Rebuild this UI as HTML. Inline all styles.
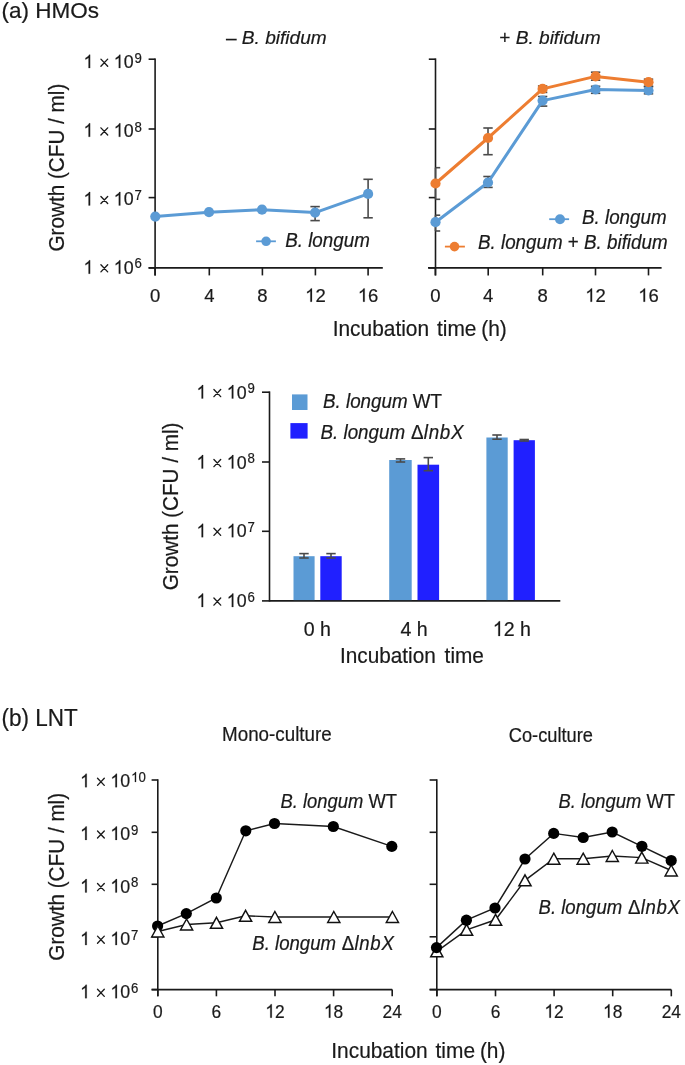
<!DOCTYPE html>
<html><head><meta charset="utf-8"><style>
html,body{margin:0;padding:0;background:#fff;overflow:hidden;}
svg{display:block;will-change:transform;}
text{font-family:"Liberation Sans", sans-serif;fill:#1a1a1a;stroke:#1a1a1a;stroke-width:0.2px;}
.one{fill-opacity:0;stroke-opacity:0;}
</style></head><body>
<svg width="685" height="1065" viewBox="0 0 685 1065">
<rect width="685" height="1065" fill="#fff"/>
<text transform="translate(1.4,18.2) scale(1,1.0)" x="0" y="0" font-size="22.5" text-anchor="start" >(a) HMOs</text>
<text transform="translate(225.9,43.9) scale(1,1.0)" x="0" y="0" font-size="19.1">– <tspan font-style="italic">B. bifidum</tspan></text>
<text transform="translate(499.2,43.9) scale(1,1.0)" x="0" y="0" font-size="19.1">+ <tspan font-style="italic">B. bifidum</tspan></text>
<line x1="148.6" y1="59.2" x2="155.3" y2="59.2" stroke="#1a1a1a" stroke-width="1.6"/>
<line x1="428.8" y1="59.2" x2="435.5" y2="59.2" stroke="#1a1a1a" stroke-width="1.6"/>
<text transform="translate(83.5,68.1) scale(1,1.05)" x="0" y="0" font-size="17.8"><tspan class="one">1</tspan> <tspan class="one">×</tspan> <tspan class="one">1</tspan>0<tspan font-size="13.2" dx="1" dy="-5.0">9</tspan></text>
<line x1="148.6" y1="129.0" x2="155.3" y2="129.0" stroke="#1a1a1a" stroke-width="1.6"/>
<line x1="428.8" y1="129.0" x2="435.5" y2="129.0" stroke="#1a1a1a" stroke-width="1.6"/>
<text transform="translate(83.5,136.8) scale(1,1.05)" x="0" y="0" font-size="17.8"><tspan class="one">1</tspan> <tspan class="one">×</tspan> <tspan class="one">1</tspan>0<tspan font-size="13.2" dx="1" dy="-5.0">8</tspan></text>
<line x1="148.6" y1="197.6" x2="155.3" y2="197.6" stroke="#1a1a1a" stroke-width="1.6"/>
<line x1="428.8" y1="197.6" x2="435.5" y2="197.6" stroke="#1a1a1a" stroke-width="1.6"/>
<text transform="translate(83.5,205.4) scale(1,1.05)" x="0" y="0" font-size="17.8"><tspan class="one">1</tspan> <tspan class="one">×</tspan> <tspan class="one">1</tspan>0<tspan font-size="13.2" dx="1" dy="-5.0">7</tspan></text>
<line x1="148.6" y1="267.9" x2="155.3" y2="267.9" stroke="#1a1a1a" stroke-width="1.6"/>
<line x1="428.8" y1="267.9" x2="435.5" y2="267.9" stroke="#1a1a1a" stroke-width="1.6"/>
<text transform="translate(83.5,273.7) scale(1,1.05)" x="0" y="0" font-size="17.8"><tspan class="one">1</tspan> <tspan class="one">×</tspan> <tspan class="one">1</tspan>0<tspan font-size="13.2" dx="1" dy="-5.0">6</tspan></text>
<line x1="155.1" y1="58.4" x2="155.1" y2="275.5" stroke="#1a1a1a" stroke-width="1.6"/>
<line x1="148.6" y1="267.9" x2="382.8" y2="267.9" stroke="#1a1a1a" stroke-width="1.6"/>
<line x1="435.5" y1="58.4" x2="435.5" y2="275.5" stroke="#1a1a1a" stroke-width="1.6"/>
<line x1="428.0" y1="267.9" x2="661.6" y2="267.9" stroke="#1a1a1a" stroke-width="1.6"/>
<line x1="155.1" y1="267.9" x2="155.1" y2="275.4" stroke="#1a1a1a" stroke-width="1.6"/>
<line x1="435.4" y1="267.9" x2="435.4" y2="275.4" stroke="#1a1a1a" stroke-width="1.6"/>
<text transform="translate(155.1,301.7) scale(1,1.0)" x="0" y="0" font-size="18.5" text-anchor="middle" >0</text>
<text transform="translate(435.4,301.7) scale(1,1.0)" x="0" y="0" font-size="18.5" text-anchor="middle" >0</text>
<line x1="209.3" y1="267.9" x2="209.3" y2="275.4" stroke="#1a1a1a" stroke-width="1.6"/>
<line x1="488.2" y1="267.9" x2="488.2" y2="275.4" stroke="#1a1a1a" stroke-width="1.6"/>
<text transform="translate(209.3,301.7) scale(1,1.0)" x="0" y="0" font-size="18.5" text-anchor="middle" >4</text>
<text transform="translate(488.2,301.7) scale(1,1.0)" x="0" y="0" font-size="18.5" text-anchor="middle" >4</text>
<line x1="262.4" y1="267.9" x2="262.4" y2="275.4" stroke="#1a1a1a" stroke-width="1.6"/>
<line x1="542.7" y1="267.9" x2="542.7" y2="275.4" stroke="#1a1a1a" stroke-width="1.6"/>
<text transform="translate(262.4,301.7) scale(1,1.0)" x="0" y="0" font-size="18.5" text-anchor="middle" >8</text>
<text transform="translate(542.7,301.7) scale(1,1.0)" x="0" y="0" font-size="18.5" text-anchor="middle" >8</text>
<line x1="315.4" y1="267.9" x2="315.4" y2="275.4" stroke="#1a1a1a" stroke-width="1.6"/>
<line x1="595.5" y1="267.9" x2="595.5" y2="275.4" stroke="#1a1a1a" stroke-width="1.6"/>
<text transform="translate(315.4,301.7) scale(1,1.0)" x="0" y="0" font-size="18.5" text-anchor="middle" ><tspan class="one">1</tspan>2</text>
<text transform="translate(595.5,301.7) scale(1,1.0)" x="0" y="0" font-size="18.5" text-anchor="middle" ><tspan class="one">1</tspan>2</text>
<line x1="368.1" y1="267.9" x2="368.1" y2="275.4" stroke="#1a1a1a" stroke-width="1.6"/>
<line x1="648.5" y1="267.9" x2="648.5" y2="275.4" stroke="#1a1a1a" stroke-width="1.6"/>
<text transform="translate(368.1,301.7) scale(1,1.0)" x="0" y="0" font-size="18.5" text-anchor="middle" ><tspan class="one">1</tspan>6</text>
<text transform="translate(648.5,301.7) scale(1,1.0)" x="0" y="0" font-size="18.5" text-anchor="middle" ><tspan class="one">1</tspan>6</text>
<text transform="translate(332.7,336.3) scale(1,1.05)" x="0" y="0" font-size="20.9">Incubation<tspan dx="2.1"> time</tspan><tspan dx="-0.9"> (h)</tspan></text>
<text transform="translate(64.3,167.6) rotate(-90) scale(1,1.08)" x="0" y="0" font-size="20.7" text-anchor="middle">Growth (CFU / ml)</text>
<line x1="315.1" y1="206.6" x2="315.1" y2="220.6" stroke="#4a4a4a" stroke-width="1.6"/>
<line x1="310.40000000000003" y1="206.6" x2="319.8" y2="206.6" stroke="#4a4a4a" stroke-width="1.6"/>
<line x1="310.40000000000003" y1="220.6" x2="319.8" y2="220.6" stroke="#4a4a4a" stroke-width="1.6"/>
<line x1="368.1" y1="179.3" x2="368.1" y2="217.8" stroke="#4a4a4a" stroke-width="1.6"/>
<line x1="363.40000000000003" y1="179.3" x2="372.8" y2="179.3" stroke="#4a4a4a" stroke-width="1.6"/>
<line x1="363.40000000000003" y1="217.8" x2="372.8" y2="217.8" stroke="#4a4a4a" stroke-width="1.6"/>
<polyline points="155.3,216.6 209.0,212.2 262.0,209.7 315.1,212.6 368.1,193.9" fill="none" stroke="#5B9BD5" stroke-width="3" stroke-linejoin="round"/>
<circle cx="155.3" cy="216.6" r="5.1" fill="#5B9BD5"/>
<circle cx="209.0" cy="212.2" r="5.1" fill="#5B9BD5"/>
<circle cx="262.0" cy="209.7" r="5.1" fill="#5B9BD5"/>
<circle cx="315.1" cy="212.6" r="5.1" fill="#5B9BD5"/>
<circle cx="368.1" cy="193.9" r="5.1" fill="#5B9BD5"/>
<line x1="256.1" y1="241.3" x2="275.9" y2="241.3" stroke="#5B9BD5" stroke-width="1.8"/>
<circle cx="266.1" cy="241.3" r="4.8" fill="#5B9BD5"/>
<text transform="translate(285.2,247.4) scale(1,1.05)" x="0" y="0" font-size="18.8" text-anchor="start" font-style="italic" >B. longum</text>
<line x1="435.5" y1="167.7" x2="435.5" y2="199.3" stroke="#4a4a4a" stroke-width="1.6"/>
<line x1="435.5" y1="167.7" x2="440.2" y2="167.7" stroke="#4a4a4a" stroke-width="1.6"/>
<line x1="435.5" y1="199.3" x2="440.2" y2="199.3" stroke="#4a4a4a" stroke-width="1.6"/>
<line x1="435.5" y1="215.2" x2="435.5" y2="231.0" stroke="#4a4a4a" stroke-width="1.6"/>
<line x1="435.5" y1="215.2" x2="440.2" y2="215.2" stroke="#4a4a4a" stroke-width="1.6"/>
<line x1="435.5" y1="231.0" x2="440.2" y2="231.0" stroke="#4a4a4a" stroke-width="1.6"/>
<line x1="488.0" y1="128.0" x2="488.0" y2="154.7" stroke="#4a4a4a" stroke-width="1.6"/>
<line x1="483.3" y1="128.0" x2="492.7" y2="128.0" stroke="#4a4a4a" stroke-width="1.6"/>
<line x1="483.3" y1="154.7" x2="492.7" y2="154.7" stroke="#4a4a4a" stroke-width="1.6"/>
<line x1="488.0" y1="176.5" x2="488.0" y2="187.4" stroke="#4a4a4a" stroke-width="1.6"/>
<line x1="483.3" y1="176.5" x2="492.7" y2="176.5" stroke="#4a4a4a" stroke-width="1.6"/>
<line x1="483.3" y1="187.4" x2="492.7" y2="187.4" stroke="#4a4a4a" stroke-width="1.6"/>
<line x1="542.6" y1="86.0" x2="542.6" y2="92.4" stroke="#4a4a4a" stroke-width="1.6"/>
<line x1="537.9" y1="86.0" x2="547.3000000000001" y2="86.0" stroke="#4a4a4a" stroke-width="1.6"/>
<line x1="537.9" y1="92.4" x2="547.3000000000001" y2="92.4" stroke="#4a4a4a" stroke-width="1.6"/>
<line x1="542.6" y1="96.5" x2="542.6" y2="106.1" stroke="#4a4a4a" stroke-width="1.6"/>
<line x1="537.9" y1="96.5" x2="547.3000000000001" y2="96.5" stroke="#4a4a4a" stroke-width="1.6"/>
<line x1="537.9" y1="106.1" x2="547.3000000000001" y2="106.1" stroke="#4a4a4a" stroke-width="1.6"/>
<line x1="595.6" y1="72.2" x2="595.6" y2="80.2" stroke="#4a4a4a" stroke-width="1.6"/>
<line x1="590.9" y1="72.2" x2="600.3000000000001" y2="72.2" stroke="#4a4a4a" stroke-width="1.6"/>
<line x1="590.9" y1="80.2" x2="600.3000000000001" y2="80.2" stroke="#4a4a4a" stroke-width="1.6"/>
<line x1="595.6" y1="86.3" x2="595.6" y2="93.3" stroke="#4a4a4a" stroke-width="1.6"/>
<line x1="590.9" y1="86.3" x2="600.3000000000001" y2="86.3" stroke="#4a4a4a" stroke-width="1.6"/>
<line x1="590.9" y1="93.3" x2="600.3000000000001" y2="93.3" stroke="#4a4a4a" stroke-width="1.6"/>
<line x1="648.5" y1="79.2" x2="648.5" y2="86.2" stroke="#4a4a4a" stroke-width="1.6"/>
<line x1="643.8" y1="79.2" x2="653.2" y2="79.2" stroke="#4a4a4a" stroke-width="1.6"/>
<line x1="643.8" y1="86.2" x2="653.2" y2="86.2" stroke="#4a4a4a" stroke-width="1.6"/>
<line x1="648.5" y1="86.8" x2="648.5" y2="93.8" stroke="#4a4a4a" stroke-width="1.6"/>
<line x1="643.8" y1="86.8" x2="653.2" y2="86.8" stroke="#4a4a4a" stroke-width="1.6"/>
<line x1="643.8" y1="93.8" x2="653.2" y2="93.8" stroke="#4a4a4a" stroke-width="1.6"/>
<polyline points="435.5,222.2 488.0,182.5 542.6,100.6 595.6,89.5 648.5,90.5" fill="none" stroke="#5B9BD5" stroke-width="3" stroke-linejoin="round"/>
<circle cx="435.5" cy="222.2" r="5.1" fill="#5B9BD5"/>
<circle cx="488.0" cy="182.5" r="5.1" fill="#5B9BD5"/>
<circle cx="542.6" cy="100.6" r="5.1" fill="#5B9BD5"/>
<circle cx="595.6" cy="89.5" r="5.1" fill="#5B9BD5"/>
<circle cx="648.5" cy="90.5" r="5.1" fill="#5B9BD5"/>
<polyline points="435.5,183.5 488.0,138.0 542.6,88.9 595.6,76.4 648.5,82.2" fill="none" stroke="#ED7D31" stroke-width="3" stroke-linejoin="round"/>
<circle cx="435.5" cy="183.5" r="5.1" fill="#ED7D31"/>
<circle cx="488.0" cy="138.0" r="5.1" fill="#ED7D31"/>
<circle cx="542.6" cy="88.9" r="5.1" fill="#ED7D31"/>
<circle cx="595.6" cy="76.4" r="5.1" fill="#ED7D31"/>
<circle cx="648.5" cy="82.2" r="5.1" fill="#ED7D31"/>
<line x1="549.2" y1="219.2" x2="569.1" y2="219.2" stroke="#5B9BD5" stroke-width="1.8"/>
<circle cx="560" cy="219.2" r="5" fill="#5B9BD5"/>
<text transform="translate(582,223.7) scale(1,1.05)" x="0" y="0" font-size="18.8" text-anchor="start" font-style="italic" >B. longum</text>
<line x1="444.9" y1="246.6" x2="464.9" y2="246.6" stroke="#ED7D31" stroke-width="1.8"/>
<circle cx="454.5" cy="246.6" r="4.8" fill="#ED7D31"/>
<text transform="translate(478,248.6) scale(1,1.05)" x="0" y="0" font-size="18.8"><tspan font-style="italic">B. longum</tspan> + <tspan font-style="italic">B. bifidum</tspan></text>
<line x1="262.0" y1="392.2" x2="269.5" y2="392.2" stroke="#1a1a1a" stroke-width="1.6"/>
<text transform="translate(196.5,398.5) scale(1,1.05)" x="0" y="0" font-size="17.8"><tspan class="one">1</tspan> <tspan class="one">×</tspan> <tspan class="one">1</tspan>0<tspan font-size="13.2" dx="1" dy="-5.0">9</tspan></text>
<line x1="262.0" y1="462.0" x2="269.5" y2="462.0" stroke="#1a1a1a" stroke-width="1.6"/>
<text transform="translate(196.5,468.5) scale(1,1.05)" x="0" y="0" font-size="17.8"><tspan class="one">1</tspan> <tspan class="one">×</tspan> <tspan class="one">1</tspan>0<tspan font-size="13.2" dx="1" dy="-5.0">8</tspan></text>
<line x1="262.0" y1="531.3" x2="269.5" y2="531.3" stroke="#1a1a1a" stroke-width="1.6"/>
<text transform="translate(196.5,537.2) scale(1,1.05)" x="0" y="0" font-size="17.8"><tspan class="one">1</tspan> <tspan class="one">×</tspan> <tspan class="one">1</tspan>0<tspan font-size="13.2" dx="1" dy="-5.0">7</tspan></text>
<line x1="262.0" y1="600.9" x2="269.5" y2="600.9" stroke="#1a1a1a" stroke-width="1.6"/>
<text transform="translate(196.5,607.0) scale(1,1.05)" x="0" y="0" font-size="17.8"><tspan class="one">1</tspan> <tspan class="one">×</tspan> <tspan class="one">1</tspan>0<tspan font-size="13.2" dx="1" dy="-5.0">6</tspan></text>
<line x1="269.5" y1="391.4" x2="269.5" y2="601.7" stroke="#1a1a1a" stroke-width="1.6"/>
<line x1="269.5" y1="600.9" x2="560.3" y2="600.9" stroke="#1a1a1a" stroke-width="1.6"/>
<rect x="293.5" y="556.2" width="21.100000000000023" height="43.89999999999998" fill="#5B9BD5"/>
<rect x="320.3" y="556.2" width="21.399999999999977" height="43.89999999999998" fill="#2020FF"/>
<rect x="389.2" y="460.0" width="22.5" height="140.10000000000002" fill="#5B9BD5"/>
<rect x="417.5" y="464.7" width="21.600000000000023" height="135.40000000000003" fill="#2020FF"/>
<rect x="486.4" y="437.5" width="21.30000000000001" height="162.60000000000002" fill="#5B9BD5"/>
<rect x="513.6" y="440.2" width="21.299999999999955" height="159.90000000000003" fill="#2020FF"/>
<line x1="304.0" y1="553.6" x2="304.0" y2="558.0" stroke="#4a4a4a" stroke-width="1.6"/>
<line x1="299.3" y1="553.6" x2="308.7" y2="553.6" stroke="#4a4a4a" stroke-width="1.6"/>
<line x1="299.3" y1="558.0" x2="308.7" y2="558.0" stroke="#4a4a4a" stroke-width="1.6"/>
<line x1="331.0" y1="553.6" x2="331.0" y2="558.0" stroke="#4a4a4a" stroke-width="1.6"/>
<line x1="326.3" y1="553.6" x2="335.7" y2="553.6" stroke="#4a4a4a" stroke-width="1.6"/>
<line x1="326.3" y1="558.0" x2="335.7" y2="558.0" stroke="#4a4a4a" stroke-width="1.6"/>
<line x1="400.5" y1="458.9" x2="400.5" y2="462.0" stroke="#4a4a4a" stroke-width="1.6"/>
<line x1="395.8" y1="458.9" x2="405.2" y2="458.9" stroke="#4a4a4a" stroke-width="1.6"/>
<line x1="395.8" y1="462.0" x2="405.2" y2="462.0" stroke="#4a4a4a" stroke-width="1.6"/>
<line x1="428.3" y1="457.6" x2="428.3" y2="470.7" stroke="#4a4a4a" stroke-width="1.6"/>
<line x1="423.6" y1="457.6" x2="433.0" y2="457.6" stroke="#4a4a4a" stroke-width="1.6"/>
<line x1="423.6" y1="470.7" x2="433.0" y2="470.7" stroke="#4a4a4a" stroke-width="1.6"/>
<line x1="497.0" y1="435.0" x2="497.0" y2="439.2" stroke="#4a4a4a" stroke-width="1.6"/>
<line x1="492.3" y1="435.0" x2="501.7" y2="435.0" stroke="#4a4a4a" stroke-width="1.6"/>
<line x1="492.3" y1="439.2" x2="501.7" y2="439.2" stroke="#4a4a4a" stroke-width="1.6"/>
<line x1="524.2" y1="439.5" x2="524.2" y2="441.0" stroke="#4a4a4a" stroke-width="1.6"/>
<line x1="519.5" y1="439.5" x2="528.9000000000001" y2="439.5" stroke="#4a4a4a" stroke-width="1.6"/>
<line x1="519.5" y1="441.0" x2="528.9000000000001" y2="441.0" stroke="#4a4a4a" stroke-width="1.6"/>
<rect x="292" y="394.4" width="15.5" height="15.6" fill="#5B9BD5"/>
<rect x="290.4" y="423.1" width="17.2" height="15.5" fill="#2020FF"/>
<text transform="translate(323,408.4) scale(1,1.05)" x="0" y="0" font-size="18.8"><tspan font-style="italic">B. longum</tspan> WT</text>
<text transform="translate(320.5,438.6) scale(1,1.05)" x="0" y="0" font-size="18.8"><tspan font-style="italic">B. longum</tspan> <tspan dx="0.6">Δ</tspan><tspan font-style="italic" letter-spacing="0.7" dx="0.3">lnbX</tspan></text>
<text transform="translate(317.4,636.0) scale(1,1.05)" x="0" y="0" font-size="19.6" text-anchor="middle" >0 h</text>
<text transform="translate(414.1,636.0) scale(1,1.05)" x="0" y="0" font-size="19.6" text-anchor="middle" >4 h</text>
<text transform="translate(511.8,636.0) scale(1,1.05)" x="0" y="0" font-size="19.6" text-anchor="middle" ><tspan class="one">1</tspan>2 h</text>
<text transform="translate(411.9,663.4) scale(1,1.05)" x="0" y="0" font-size="20.8" text-anchor="middle" word-spacing="3">Incubation time</text>
<text transform="translate(178.0,506.4) rotate(-90) scale(1,1.08)" x="0" y="0" font-size="20.7" text-anchor="middle">Growth (CFU / ml)</text>
<text transform="translate(1.5,726.3) scale(1,1.05)" x="0" y="0" font-size="22.5" text-anchor="start" >(b) LNT</text>
<text transform="translate(276.9,741.3) scale(1,1.05)" x="0" y="0" font-size="18.8" text-anchor="middle" >Mono-culture</text>
<text transform="translate(550.8,741.6) scale(0.97,1.07)" x="0" y="0" font-size="18.8" text-anchor="middle" >Co-culture</text>
<line x1="151.6" y1="780.0" x2="157.8" y2="780.0" stroke="#1a1a1a" stroke-width="1.6"/>
<line x1="429.6" y1="780.0" x2="436.8" y2="780.0" stroke="#1a1a1a" stroke-width="1.6"/>
<text transform="translate(80.1,787.2) scale(1,1.05)" x="0" y="0" font-size="17.8"><tspan class="one">1</tspan> <tspan class="one">×</tspan> <tspan class="one">1</tspan>0<tspan font-size="13.2" dx="1" dy="-5.0"><tspan class="one">1</tspan>0</tspan></text>
<line x1="151.6" y1="832.3" x2="157.8" y2="832.3" stroke="#1a1a1a" stroke-width="1.6"/>
<line x1="429.6" y1="832.3" x2="436.8" y2="832.3" stroke="#1a1a1a" stroke-width="1.6"/>
<text transform="translate(80.1,839.9) scale(1,1.05)" x="0" y="0" font-size="17.8"><tspan class="one">1</tspan> <tspan class="one">×</tspan> <tspan class="one">1</tspan>0<tspan font-size="13.2" dx="1" dy="-5.0">9</tspan></text>
<line x1="151.6" y1="884.3" x2="157.8" y2="884.3" stroke="#1a1a1a" stroke-width="1.6"/>
<line x1="429.6" y1="884.3" x2="436.8" y2="884.3" stroke="#1a1a1a" stroke-width="1.6"/>
<text transform="translate(80.1,892.5) scale(1,1.05)" x="0" y="0" font-size="17.8"><tspan class="one">1</tspan> <tspan class="one">×</tspan> <tspan class="one">1</tspan>0<tspan font-size="13.2" dx="1" dy="-5.0">8</tspan></text>
<line x1="151.6" y1="936.8" x2="157.8" y2="936.8" stroke="#1a1a1a" stroke-width="1.6"/>
<line x1="429.6" y1="936.8" x2="436.8" y2="936.8" stroke="#1a1a1a" stroke-width="1.6"/>
<text transform="translate(80.1,945.1) scale(1,1.05)" x="0" y="0" font-size="17.8"><tspan class="one">1</tspan> <tspan class="one">×</tspan> <tspan class="one">1</tspan>0<tspan font-size="13.2" dx="1" dy="-5.0">7</tspan></text>
<line x1="151.6" y1="989.6" x2="157.8" y2="989.6" stroke="#1a1a1a" stroke-width="1.6"/>
<line x1="429.6" y1="989.6" x2="436.8" y2="989.6" stroke="#1a1a1a" stroke-width="1.6"/>
<text transform="translate(80.1,998.2) scale(1,1.05)" x="0" y="0" font-size="17.8"><tspan class="one">1</tspan> <tspan class="one">×</tspan> <tspan class="one">1</tspan>0<tspan font-size="13.2" dx="1" dy="-5.0">6</tspan></text>
<line x1="157.8" y1="779.2" x2="157.8" y2="996.3" stroke="#1a1a1a" stroke-width="1.6"/>
<line x1="151.6" y1="989.6" x2="392.2" y2="989.6" stroke="#1a1a1a" stroke-width="1.6"/>
<line x1="436.8" y1="779.2" x2="436.8" y2="996.3" stroke="#1a1a1a" stroke-width="1.6"/>
<line x1="429.6" y1="989.6" x2="671.3" y2="989.6" stroke="#1a1a1a" stroke-width="1.6"/>
<line x1="157.8" y1="989.6" x2="157.8" y2="996.3" stroke="#1a1a1a" stroke-width="1.6"/>
<line x1="436.9" y1="989.6" x2="436.9" y2="996.3" stroke="#1a1a1a" stroke-width="1.6"/>
<text transform="translate(157.8,1017.7) scale(0.94,1.02)" x="0" y="0" font-size="18.5" text-anchor="middle" >0</text>
<text transform="translate(436.9,1017.7) scale(0.94,1.02)" x="0" y="0" font-size="18.5" text-anchor="middle" >0</text>
<line x1="216.4" y1="989.6" x2="216.4" y2="996.3" stroke="#1a1a1a" stroke-width="1.6"/>
<line x1="495.5" y1="989.6" x2="495.5" y2="996.3" stroke="#1a1a1a" stroke-width="1.6"/>
<text transform="translate(216.4,1017.7) scale(0.94,1.02)" x="0" y="0" font-size="18.5" text-anchor="middle" >6</text>
<text transform="translate(495.5,1017.7) scale(0.94,1.02)" x="0" y="0" font-size="18.5" text-anchor="middle" >6</text>
<line x1="275.0" y1="989.6" x2="275.0" y2="996.3" stroke="#1a1a1a" stroke-width="1.6"/>
<line x1="554.1" y1="989.6" x2="554.1" y2="996.3" stroke="#1a1a1a" stroke-width="1.6"/>
<text transform="translate(275.0,1017.7) scale(0.94,1.02)" x="0" y="0" font-size="18.5" text-anchor="middle" ><tspan class="one">1</tspan>2</text>
<text transform="translate(554.1,1017.7) scale(0.94,1.02)" x="0" y="0" font-size="18.5" text-anchor="middle" ><tspan class="one">1</tspan>2</text>
<line x1="333.6" y1="989.6" x2="333.6" y2="996.3" stroke="#1a1a1a" stroke-width="1.6"/>
<line x1="612.7" y1="989.6" x2="612.7" y2="996.3" stroke="#1a1a1a" stroke-width="1.6"/>
<text transform="translate(333.6,1017.7) scale(0.94,1.02)" x="0" y="0" font-size="18.5" text-anchor="middle" ><tspan class="one">1</tspan>8</text>
<text transform="translate(612.7,1017.7) scale(0.94,1.02)" x="0" y="0" font-size="18.5" text-anchor="middle" ><tspan class="one">1</tspan>8</text>
<line x1="392.20000000000005" y1="989.6" x2="392.20000000000005" y2="996.3" stroke="#1a1a1a" stroke-width="1.6"/>
<line x1="671.3" y1="989.6" x2="671.3" y2="996.3" stroke="#1a1a1a" stroke-width="1.6"/>
<text transform="translate(392.20000000000005,1017.7) scale(0.94,1.02)" x="0" y="0" font-size="18.5" text-anchor="middle" >24</text>
<text transform="translate(671.3,1017.7) scale(0.94,1.02)" x="0" y="0" font-size="18.5" text-anchor="middle" >24</text>
<text transform="translate(331.3,1057.9) scale(1,1.05)" x="0" y="0" font-size="20.9">Incubation<tspan dx="2.1"> time</tspan><tspan dx="-0.9"> (h)</tspan></text>
<text transform="translate(63.8,876.8) rotate(-90) scale(1,1.08)" x="0" y="0" font-size="20.7" text-anchor="middle">Growth (CFU / ml)</text>
<polyline points="157.8,931.5 186.6,924.5 216.5,922.8 245.6,915.8 274.9,917.0 333.8,917.0 392.4,917.0" fill="none" stroke="#1a1a1a" stroke-width="1.45"/>
<polyline points="157.6,926.0 186.3,913.6 216.3,898.0 245.8,830.8 274.5,823.5 333.3,826.5 391.8,846.4" fill="none" stroke="#1a1a1a" stroke-width="1.45"/>
<circle cx="157.6" cy="926.0" r="5.6" fill="#000"/><circle cx="186.3" cy="913.6" r="5.6" fill="#000"/><circle cx="216.3" cy="898.0" r="5.6" fill="#000"/><circle cx="245.8" cy="830.8" r="5.6" fill="#000"/><circle cx="274.5" cy="823.5" r="5.6" fill="#000"/><circle cx="333.3" cy="826.5" r="5.6" fill="#000"/><circle cx="391.8" cy="846.4" r="5.6" fill="#000"/>
<polygon points="157.8,926.0 163.9,937.0 151.70000000000002,937.0" fill="#fff" stroke="#111" stroke-width="1.45" stroke-linejoin="miter"/><polygon points="186.6,919.0 192.7,930.0 180.5,930.0" fill="#fff" stroke="#111" stroke-width="1.45" stroke-linejoin="miter"/><polygon points="216.5,917.3 222.6,928.3 210.4,928.3" fill="#fff" stroke="#111" stroke-width="1.45" stroke-linejoin="miter"/><polygon points="245.6,910.3 251.7,921.3 239.5,921.3" fill="#fff" stroke="#111" stroke-width="1.45" stroke-linejoin="miter"/><polygon points="274.9,911.5 281.0,922.5 268.79999999999995,922.5" fill="#fff" stroke="#111" stroke-width="1.45" stroke-linejoin="miter"/><polygon points="333.8,911.5 339.90000000000003,922.5 327.7,922.5" fill="#fff" stroke="#111" stroke-width="1.45" stroke-linejoin="miter"/><polygon points="392.4,911.5 398.5,922.5 386.29999999999995,922.5" fill="#fff" stroke="#111" stroke-width="1.45" stroke-linejoin="miter"/>
<polyline points="436.8,951.3 466.6,929.8 495.6,919.8 525.0,880.3 553.8,858.7 583.2,858.7 612.3,856.0 641.8,857.6 671.2,870.5" fill="none" stroke="#1a1a1a" stroke-width="1.45"/>
<polyline points="436.5,947.6 466.4,920.2 495.0,908.0 525.0,859.0 553.7,833.4 583.2,837.5 612.2,832.0 641.9,846.3 671.2,860.5" fill="none" stroke="#1a1a1a" stroke-width="1.45"/>
<polygon points="436.8,945.8 442.90000000000003,956.8 430.7,956.8" fill="#fff" stroke="#111" stroke-width="1.45" stroke-linejoin="miter"/><polygon points="466.6,924.3 472.70000000000005,935.3 460.5,935.3" fill="#fff" stroke="#111" stroke-width="1.45" stroke-linejoin="miter"/><polygon points="495.6,914.3 501.70000000000005,925.3 489.5,925.3" fill="#fff" stroke="#111" stroke-width="1.45" stroke-linejoin="miter"/><polygon points="525.0,874.8 531.1,885.8 518.9,885.8" fill="#fff" stroke="#111" stroke-width="1.45" stroke-linejoin="miter"/><polygon points="553.8,853.2 559.9,864.2 547.6999999999999,864.2" fill="#fff" stroke="#111" stroke-width="1.45" stroke-linejoin="miter"/><polygon points="583.2,853.2 589.3000000000001,864.2 577.1,864.2" fill="#fff" stroke="#111" stroke-width="1.45" stroke-linejoin="miter"/><polygon points="612.3,850.5 618.4,861.5 606.1999999999999,861.5" fill="#fff" stroke="#111" stroke-width="1.45" stroke-linejoin="miter"/><polygon points="641.8,852.1 647.9,863.1 635.6999999999999,863.1" fill="#fff" stroke="#111" stroke-width="1.45" stroke-linejoin="miter"/><polygon points="671.2,865.0 677.3000000000001,876.0 665.1,876.0" fill="#fff" stroke="#111" stroke-width="1.45" stroke-linejoin="miter"/>
<circle cx="436.5" cy="947.6" r="5.6" fill="#000"/><circle cx="466.4" cy="920.2" r="5.6" fill="#000"/><circle cx="495.0" cy="908.0" r="5.6" fill="#000"/><circle cx="525.0" cy="859.0" r="5.6" fill="#000"/><circle cx="553.7" cy="833.4" r="5.6" fill="#000"/><circle cx="583.2" cy="837.5" r="5.6" fill="#000"/><circle cx="612.2" cy="832.0" r="5.6" fill="#000"/><circle cx="641.9" cy="846.3" r="5.6" fill="#000"/><circle cx="671.2" cy="860.5" r="5.6" fill="#000"/>
<text transform="translate(280.5,807.6) scale(1,1.05)" x="0" y="0" font-size="18.4"><tspan font-style="italic">B. longum</tspan> WT</text>
<text transform="translate(252.3,950.2) scale(1,1.05)" x="0" y="0" font-size="18.6"><tspan font-style="italic">B. longum</tspan> <tspan dx="0.6">Δ</tspan><tspan font-style="italic" letter-spacing="0.7" dx="0.3">lnbX</tspan></text>
<text transform="translate(558.5,807.6) scale(1,1.05)" x="0" y="0" font-size="18.4"><tspan font-style="italic">B. longum</tspan> WT</text>
<text transform="translate(538.5,914.4) scale(1,1.05)" x="0" y="0" font-size="18.6"><tspan font-style="italic">B. longum</tspan> <tspan dx="0.6">Δ</tspan><tspan font-style="italic" letter-spacing="0.7" dx="0.3">lnbX</tspan></text>
<path transform="matrix(1.0000,0.0000,0.0000,1.0500,83.5000,68.1000) translate(0.000,0.000) scale(0.00869,-0.00869)" d="M763 0H583V1147Q518 1085 412 1023T223 930V1104Q374 1175 487 1276T647 1472H763Z" fill="#1a1a1a" stroke="#1a1a1a" stroke-width="0.2" vector-effect="non-scaling-stroke"/>
<path transform="matrix(1.0000,0.0000,0.0000,1.0500,83.5000,68.1000) translate(14.858,0.000) scale(17.8)" d="M0.144 -0.479L0.524 -0.099M0.524 -0.479L0.144 -0.099" fill="none" stroke="#1a1a1a" stroke-width="1.35" stroke-linecap="round" vector-effect="non-scaling-stroke"/>
<path transform="matrix(1.0000,0.0000,0.0000,1.0500,83.5000,68.1000) translate(30.220,0.000) scale(0.00869,-0.00869)" d="M763 0H583V1147Q518 1085 412 1023T223 930V1104Q374 1175 487 1276T647 1472H763Z" fill="#1a1a1a" stroke="#1a1a1a" stroke-width="0.2" vector-effect="non-scaling-stroke"/>
<path transform="matrix(1.0000,0.0000,0.0000,1.0500,83.5000,136.8000) translate(0.000,0.000) scale(0.00869,-0.00869)" d="M763 0H583V1147Q518 1085 412 1023T223 930V1104Q374 1175 487 1276T647 1472H763Z" fill="#1a1a1a" stroke="#1a1a1a" stroke-width="0.2" vector-effect="non-scaling-stroke"/>
<path transform="matrix(1.0000,0.0000,0.0000,1.0500,83.5000,136.8000) translate(14.858,0.000) scale(17.8)" d="M0.144 -0.479L0.524 -0.099M0.524 -0.479L0.144 -0.099" fill="none" stroke="#1a1a1a" stroke-width="1.35" stroke-linecap="round" vector-effect="non-scaling-stroke"/>
<path transform="matrix(1.0000,0.0000,0.0000,1.0500,83.5000,136.8000) translate(30.220,0.000) scale(0.00869,-0.00869)" d="M763 0H583V1147Q518 1085 412 1023T223 930V1104Q374 1175 487 1276T647 1472H763Z" fill="#1a1a1a" stroke="#1a1a1a" stroke-width="0.2" vector-effect="non-scaling-stroke"/>
<path transform="matrix(1.0000,0.0000,0.0000,1.0500,83.5000,205.4000) translate(0.000,0.000) scale(0.00869,-0.00869)" d="M763 0H583V1147Q518 1085 412 1023T223 930V1104Q374 1175 487 1276T647 1472H763Z" fill="#1a1a1a" stroke="#1a1a1a" stroke-width="0.2" vector-effect="non-scaling-stroke"/>
<path transform="matrix(1.0000,0.0000,0.0000,1.0500,83.5000,205.4000) translate(14.858,0.000) scale(17.8)" d="M0.144 -0.479L0.524 -0.099M0.524 -0.479L0.144 -0.099" fill="none" stroke="#1a1a1a" stroke-width="1.35" stroke-linecap="round" vector-effect="non-scaling-stroke"/>
<path transform="matrix(1.0000,0.0000,0.0000,1.0500,83.5000,205.4000) translate(30.220,0.000) scale(0.00869,-0.00869)" d="M763 0H583V1147Q518 1085 412 1023T223 930V1104Q374 1175 487 1276T647 1472H763Z" fill="#1a1a1a" stroke="#1a1a1a" stroke-width="0.2" vector-effect="non-scaling-stroke"/>
<path transform="matrix(1.0000,0.0000,0.0000,1.0500,83.5000,273.7000) translate(0.000,0.000) scale(0.00869,-0.00869)" d="M763 0H583V1147Q518 1085 412 1023T223 930V1104Q374 1175 487 1276T647 1472H763Z" fill="#1a1a1a" stroke="#1a1a1a" stroke-width="0.2" vector-effect="non-scaling-stroke"/>
<path transform="matrix(1.0000,0.0000,0.0000,1.0500,83.5000,273.7000) translate(14.858,0.000) scale(17.8)" d="M0.144 -0.479L0.524 -0.099M0.524 -0.479L0.144 -0.099" fill="none" stroke="#1a1a1a" stroke-width="1.35" stroke-linecap="round" vector-effect="non-scaling-stroke"/>
<path transform="matrix(1.0000,0.0000,0.0000,1.0500,83.5000,273.7000) translate(30.220,0.000) scale(0.00869,-0.00869)" d="M763 0H583V1147Q518 1085 412 1023T223 930V1104Q374 1175 487 1276T647 1472H763Z" fill="#1a1a1a" stroke="#1a1a1a" stroke-width="0.2" vector-effect="non-scaling-stroke"/>
<path transform="matrix(1.0000,0.0000,0.0000,1.0000,315.4000,301.7000) translate(-10.297,0.000) scale(0.00903,-0.00903)" d="M763 0H583V1147Q518 1085 412 1023T223 930V1104Q374 1175 487 1276T647 1472H763Z" fill="#1a1a1a" stroke="#1a1a1a" stroke-width="0.2" vector-effect="non-scaling-stroke"/>
<path transform="matrix(1.0000,0.0000,0.0000,1.0000,595.5000,301.7000) translate(-10.297,0.000) scale(0.00903,-0.00903)" d="M763 0H583V1147Q518 1085 412 1023T223 930V1104Q374 1175 487 1276T647 1472H763Z" fill="#1a1a1a" stroke="#1a1a1a" stroke-width="0.2" vector-effect="non-scaling-stroke"/>
<path transform="matrix(1.0000,0.0000,0.0000,1.0000,368.1000,301.7000) translate(-10.297,0.000) scale(0.00903,-0.00903)" d="M763 0H583V1147Q518 1085 412 1023T223 930V1104Q374 1175 487 1276T647 1472H763Z" fill="#1a1a1a" stroke="#1a1a1a" stroke-width="0.2" vector-effect="non-scaling-stroke"/>
<path transform="matrix(1.0000,0.0000,0.0000,1.0000,648.5000,301.7000) translate(-10.297,0.000) scale(0.00903,-0.00903)" d="M763 0H583V1147Q518 1085 412 1023T223 930V1104Q374 1175 487 1276T647 1472H763Z" fill="#1a1a1a" stroke="#1a1a1a" stroke-width="0.2" vector-effect="non-scaling-stroke"/>
<path transform="matrix(1.0000,0.0000,0.0000,1.0500,196.5000,398.5000) translate(0.000,0.000) scale(0.00869,-0.00869)" d="M763 0H583V1147Q518 1085 412 1023T223 930V1104Q374 1175 487 1276T647 1472H763Z" fill="#1a1a1a" stroke="#1a1a1a" stroke-width="0.2" vector-effect="non-scaling-stroke"/>
<path transform="matrix(1.0000,0.0000,0.0000,1.0500,196.5000,398.5000) translate(14.858,0.000) scale(17.8)" d="M0.144 -0.479L0.524 -0.099M0.524 -0.479L0.144 -0.099" fill="none" stroke="#1a1a1a" stroke-width="1.35" stroke-linecap="round" vector-effect="non-scaling-stroke"/>
<path transform="matrix(1.0000,0.0000,0.0000,1.0500,196.5000,398.5000) translate(30.220,0.000) scale(0.00869,-0.00869)" d="M763 0H583V1147Q518 1085 412 1023T223 930V1104Q374 1175 487 1276T647 1472H763Z" fill="#1a1a1a" stroke="#1a1a1a" stroke-width="0.2" vector-effect="non-scaling-stroke"/>
<path transform="matrix(1.0000,0.0000,0.0000,1.0500,196.5000,468.5000) translate(0.000,0.000) scale(0.00869,-0.00869)" d="M763 0H583V1147Q518 1085 412 1023T223 930V1104Q374 1175 487 1276T647 1472H763Z" fill="#1a1a1a" stroke="#1a1a1a" stroke-width="0.2" vector-effect="non-scaling-stroke"/>
<path transform="matrix(1.0000,0.0000,0.0000,1.0500,196.5000,468.5000) translate(14.858,0.000) scale(17.8)" d="M0.144 -0.479L0.524 -0.099M0.524 -0.479L0.144 -0.099" fill="none" stroke="#1a1a1a" stroke-width="1.35" stroke-linecap="round" vector-effect="non-scaling-stroke"/>
<path transform="matrix(1.0000,0.0000,0.0000,1.0500,196.5000,468.5000) translate(30.220,0.000) scale(0.00869,-0.00869)" d="M763 0H583V1147Q518 1085 412 1023T223 930V1104Q374 1175 487 1276T647 1472H763Z" fill="#1a1a1a" stroke="#1a1a1a" stroke-width="0.2" vector-effect="non-scaling-stroke"/>
<path transform="matrix(1.0000,0.0000,0.0000,1.0500,196.5000,537.2000) translate(0.000,0.000) scale(0.00869,-0.00869)" d="M763 0H583V1147Q518 1085 412 1023T223 930V1104Q374 1175 487 1276T647 1472H763Z" fill="#1a1a1a" stroke="#1a1a1a" stroke-width="0.2" vector-effect="non-scaling-stroke"/>
<path transform="matrix(1.0000,0.0000,0.0000,1.0500,196.5000,537.2000) translate(14.858,0.000) scale(17.8)" d="M0.144 -0.479L0.524 -0.099M0.524 -0.479L0.144 -0.099" fill="none" stroke="#1a1a1a" stroke-width="1.35" stroke-linecap="round" vector-effect="non-scaling-stroke"/>
<path transform="matrix(1.0000,0.0000,0.0000,1.0500,196.5000,537.2000) translate(30.220,0.000) scale(0.00869,-0.00869)" d="M763 0H583V1147Q518 1085 412 1023T223 930V1104Q374 1175 487 1276T647 1472H763Z" fill="#1a1a1a" stroke="#1a1a1a" stroke-width="0.2" vector-effect="non-scaling-stroke"/>
<path transform="matrix(1.0000,0.0000,0.0000,1.0500,196.5000,607.0000) translate(0.000,0.000) scale(0.00869,-0.00869)" d="M763 0H583V1147Q518 1085 412 1023T223 930V1104Q374 1175 487 1276T647 1472H763Z" fill="#1a1a1a" stroke="#1a1a1a" stroke-width="0.2" vector-effect="non-scaling-stroke"/>
<path transform="matrix(1.0000,0.0000,0.0000,1.0500,196.5000,607.0000) translate(14.858,0.000) scale(17.8)" d="M0.144 -0.479L0.524 -0.099M0.524 -0.479L0.144 -0.099" fill="none" stroke="#1a1a1a" stroke-width="1.35" stroke-linecap="round" vector-effect="non-scaling-stroke"/>
<path transform="matrix(1.0000,0.0000,0.0000,1.0500,196.5000,607.0000) translate(30.220,0.000) scale(0.00869,-0.00869)" d="M763 0H583V1147Q518 1085 412 1023T223 930V1104Q374 1175 487 1276T647 1472H763Z" fill="#1a1a1a" stroke="#1a1a1a" stroke-width="0.2" vector-effect="non-scaling-stroke"/>
<path transform="matrix(1.0000,0.0000,0.0000,1.0500,511.8000,636.0000) translate(-19.064,0.000) scale(0.00957,-0.00957)" d="M763 0H583V1147Q518 1085 412 1023T223 930V1104Q374 1175 487 1276T647 1472H763Z" fill="#1a1a1a" stroke="#1a1a1a" stroke-width="0.2" vector-effect="non-scaling-stroke"/>
<path transform="matrix(1.0000,0.0000,0.0000,1.0500,80.1000,787.2000) translate(0.000,0.000) scale(0.00869,-0.00869)" d="M763 0H583V1147Q518 1085 412 1023T223 930V1104Q374 1175 487 1276T647 1472H763Z" fill="#1a1a1a" stroke="#1a1a1a" stroke-width="0.2" vector-effect="non-scaling-stroke"/>
<path transform="matrix(1.0000,0.0000,0.0000,1.0500,80.1000,787.2000) translate(14.858,0.000) scale(17.8)" d="M0.144 -0.479L0.524 -0.099M0.524 -0.479L0.144 -0.099" fill="none" stroke="#1a1a1a" stroke-width="1.35" stroke-linecap="round" vector-effect="non-scaling-stroke"/>
<path transform="matrix(1.0000,0.0000,0.0000,1.0500,80.1000,787.2000) translate(30.220,0.000) scale(0.00869,-0.00869)" d="M763 0H583V1147Q518 1085 412 1023T223 930V1104Q374 1175 487 1276T647 1472H763Z" fill="#1a1a1a" stroke="#1a1a1a" stroke-width="0.2" vector-effect="non-scaling-stroke"/>
<path transform="matrix(1.0000,0.0000,0.0000,1.0500,80.1000,787.2000) translate(51.031,-5.000) scale(0.00645,-0.00645)" d="M763 0H583V1147Q518 1085 412 1023T223 930V1104Q374 1175 487 1276T647 1472H763Z" fill="#1a1a1a" stroke="#1a1a1a" stroke-width="0.2" vector-effect="non-scaling-stroke"/>
<path transform="matrix(1.0000,0.0000,0.0000,1.0500,80.1000,839.9000) translate(0.000,0.000) scale(0.00869,-0.00869)" d="M763 0H583V1147Q518 1085 412 1023T223 930V1104Q374 1175 487 1276T647 1472H763Z" fill="#1a1a1a" stroke="#1a1a1a" stroke-width="0.2" vector-effect="non-scaling-stroke"/>
<path transform="matrix(1.0000,0.0000,0.0000,1.0500,80.1000,839.9000) translate(14.858,0.000) scale(17.8)" d="M0.144 -0.479L0.524 -0.099M0.524 -0.479L0.144 -0.099" fill="none" stroke="#1a1a1a" stroke-width="1.35" stroke-linecap="round" vector-effect="non-scaling-stroke"/>
<path transform="matrix(1.0000,0.0000,0.0000,1.0500,80.1000,839.9000) translate(30.220,0.000) scale(0.00869,-0.00869)" d="M763 0H583V1147Q518 1085 412 1023T223 930V1104Q374 1175 487 1276T647 1472H763Z" fill="#1a1a1a" stroke="#1a1a1a" stroke-width="0.2" vector-effect="non-scaling-stroke"/>
<path transform="matrix(1.0000,0.0000,0.0000,1.0500,80.1000,892.5000) translate(0.000,0.000) scale(0.00869,-0.00869)" d="M763 0H583V1147Q518 1085 412 1023T223 930V1104Q374 1175 487 1276T647 1472H763Z" fill="#1a1a1a" stroke="#1a1a1a" stroke-width="0.2" vector-effect="non-scaling-stroke"/>
<path transform="matrix(1.0000,0.0000,0.0000,1.0500,80.1000,892.5000) translate(14.858,0.000) scale(17.8)" d="M0.144 -0.479L0.524 -0.099M0.524 -0.479L0.144 -0.099" fill="none" stroke="#1a1a1a" stroke-width="1.35" stroke-linecap="round" vector-effect="non-scaling-stroke"/>
<path transform="matrix(1.0000,0.0000,0.0000,1.0500,80.1000,892.5000) translate(30.220,0.000) scale(0.00869,-0.00869)" d="M763 0H583V1147Q518 1085 412 1023T223 930V1104Q374 1175 487 1276T647 1472H763Z" fill="#1a1a1a" stroke="#1a1a1a" stroke-width="0.2" vector-effect="non-scaling-stroke"/>
<path transform="matrix(1.0000,0.0000,0.0000,1.0500,80.1000,945.1000) translate(0.000,0.000) scale(0.00869,-0.00869)" d="M763 0H583V1147Q518 1085 412 1023T223 930V1104Q374 1175 487 1276T647 1472H763Z" fill="#1a1a1a" stroke="#1a1a1a" stroke-width="0.2" vector-effect="non-scaling-stroke"/>
<path transform="matrix(1.0000,0.0000,0.0000,1.0500,80.1000,945.1000) translate(14.858,0.000) scale(17.8)" d="M0.144 -0.479L0.524 -0.099M0.524 -0.479L0.144 -0.099" fill="none" stroke="#1a1a1a" stroke-width="1.35" stroke-linecap="round" vector-effect="non-scaling-stroke"/>
<path transform="matrix(1.0000,0.0000,0.0000,1.0500,80.1000,945.1000) translate(30.220,0.000) scale(0.00869,-0.00869)" d="M763 0H583V1147Q518 1085 412 1023T223 930V1104Q374 1175 487 1276T647 1472H763Z" fill="#1a1a1a" stroke="#1a1a1a" stroke-width="0.2" vector-effect="non-scaling-stroke"/>
<path transform="matrix(1.0000,0.0000,0.0000,1.0500,80.1000,998.2000) translate(0.000,0.000) scale(0.00869,-0.00869)" d="M763 0H583V1147Q518 1085 412 1023T223 930V1104Q374 1175 487 1276T647 1472H763Z" fill="#1a1a1a" stroke="#1a1a1a" stroke-width="0.2" vector-effect="non-scaling-stroke"/>
<path transform="matrix(1.0000,0.0000,0.0000,1.0500,80.1000,998.2000) translate(14.858,0.000) scale(17.8)" d="M0.144 -0.479L0.524 -0.099M0.524 -0.479L0.144 -0.099" fill="none" stroke="#1a1a1a" stroke-width="1.35" stroke-linecap="round" vector-effect="non-scaling-stroke"/>
<path transform="matrix(1.0000,0.0000,0.0000,1.0500,80.1000,998.2000) translate(30.220,0.000) scale(0.00869,-0.00869)" d="M763 0H583V1147Q518 1085 412 1023T223 930V1104Q374 1175 487 1276T647 1472H763Z" fill="#1a1a1a" stroke="#1a1a1a" stroke-width="0.2" vector-effect="non-scaling-stroke"/>
<path transform="matrix(0.9400,0.0000,0.0000,1.0200,275.0000,1017.7000) translate(-10.291,0.000) scale(0.00903,-0.00903)" d="M763 0H583V1147Q518 1085 412 1023T223 930V1104Q374 1175 487 1276T647 1472H763Z" fill="#1a1a1a" stroke="#1a1a1a" stroke-width="0.2" vector-effect="non-scaling-stroke"/>
<path transform="matrix(0.9400,0.0000,0.0000,1.0200,554.1000,1017.7000) translate(-10.291,0.000) scale(0.00903,-0.00903)" d="M763 0H583V1147Q518 1085 412 1023T223 930V1104Q374 1175 487 1276T647 1472H763Z" fill="#1a1a1a" stroke="#1a1a1a" stroke-width="0.2" vector-effect="non-scaling-stroke"/>
<path transform="matrix(0.9400,0.0000,0.0000,1.0200,333.6000,1017.7000) translate(-10.291,0.000) scale(0.00903,-0.00903)" d="M763 0H583V1147Q518 1085 412 1023T223 930V1104Q374 1175 487 1276T647 1472H763Z" fill="#1a1a1a" stroke="#1a1a1a" stroke-width="0.2" vector-effect="non-scaling-stroke"/>
<path transform="matrix(0.9400,0.0000,0.0000,1.0200,612.7000,1017.7000) translate(-10.291,0.000) scale(0.00903,-0.00903)" d="M763 0H583V1147Q518 1085 412 1023T223 930V1104Q374 1175 487 1276T647 1472H763Z" fill="#1a1a1a" stroke="#1a1a1a" stroke-width="0.2" vector-effect="non-scaling-stroke"/>
</svg>
</body></html>
